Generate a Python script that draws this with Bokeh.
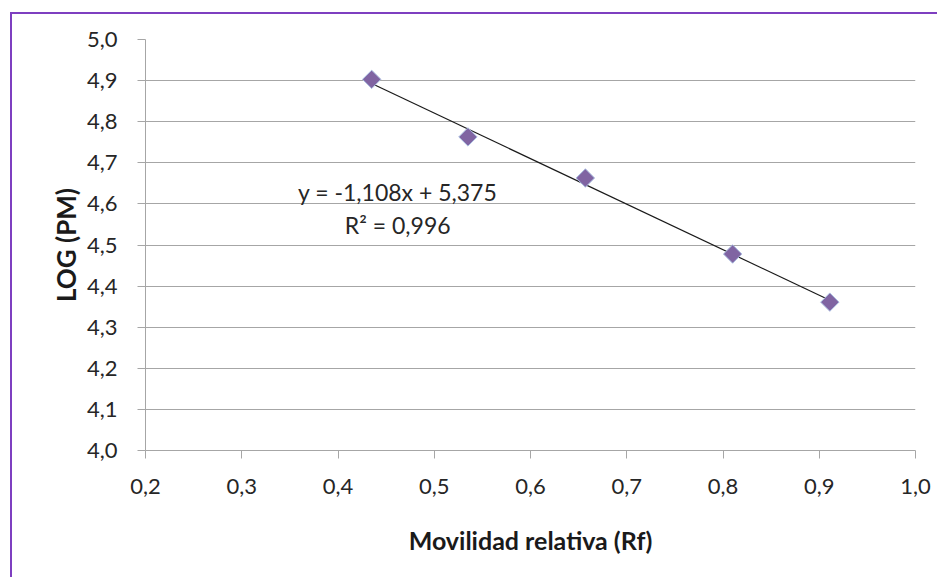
from bokeh.plotting import figure
from bokeh.models import (ColumnDataSource, FixedTicker, CustomJSTickFormatter,
                          Label, Range1d)
from bokeh.embed import file_html
from bokeh.resources import INLINE
import math

# Data
rf = [0.435, 0.535, 0.657, 0.810, 0.911]
log_pm = [4.903, 4.763, 4.663, 4.478, 4.361]
slope = -1.108
intercept = 5.375
r2 = "0,996"
x_ticks = [0.2, 0.3, 0.4, 0.5, 0.6, 0.7, 0.8, 0.9, 1.0]
y_ticks = [4.0, 4.1, 4.2, 4.3, 4.4, 4.5, 4.6, 4.7, 4.8, 4.9, 5.0]
x_title = "Movilidad relativa (Rf)"
y_title = "LOG (PM)"

FONT = "Lato"

p = figure(width=925, height=563, output_backend="svg", toolbar_location=None,
           x_range=Range1d(0.2, 1.0), y_range=Range1d(4.0, 5.0),
           min_border_left=133, min_border_right=22, min_border_top=25,
           min_border_bottom=127, frame_width=770, frame_height=411)
p.background_fill_color = "white"
p.border_fill_color = "white"
p.outline_line_color = None
p.styles = {"border-left": "2px solid #7E3FC0", "border-top": "2px solid #7E3FC0",
            "margin-left": "10px", "margin-top": "12px"}

grid_color = "#A6A6A6"
p.xgrid.grid_line_color = None
p.ygrid.grid_line_color = grid_color
p.ygrid.grid_line_width = 1

for ax in (p.xaxis[0], p.yaxis[0]):
    ax.axis_line_color = grid_color
    ax.major_tick_line_color = grid_color
    ax.major_tick_out = 8
    ax.major_tick_in = 0
    ax.minor_tick_line_color = None
    ax.major_label_text_font = FONT
    ax.major_label_text_font_size = "22px"
    ax.major_label_text_color = "#262626"
    ax.axis_label_text_font = FONT
    ax.axis_label_text_font_style = "bold"
    ax.axis_label_text_color = "#1A1A1A"
    ax.formatter = CustomJSTickFormatter(code="return tick.toFixed(1).replace('.', ',');")

p.xaxis.axis_label_text_font_size = "25px"
p.yaxis.axis_label_text_font_size = "26px"
p.xaxis.ticker = FixedTicker(ticks=x_ticks)
p.yaxis.ticker = FixedTicker(ticks=y_ticks)
p.xaxis.axis_label = x_title
p.yaxis.axis_label = y_title
p.xaxis.major_label_standoff = 20
p.yaxis.major_label_standoff = 20
p.xaxis.axis_label_standoff = 28
p.yaxis.axis_label_standoff = 2

# trendline over the data range
tx = [min(rf), max(rf)]
ty = [slope * v + intercept for v in tx]
p.line(tx, ty, line_color="#1A1A1A", line_width=1.2)

src = ColumnDataSource(dict(x=rf, y=log_pm))
p.scatter("x", "y", source=src, marker="square", size=13, angle=math.pi / 4,
          fill_color="#8064A2", line_color="#A9BCE0", line_width=1)

eq = "y = {:.3f}x + {:.3f}".format(slope, intercept).replace(".", ",")
p.add_layout(Label(x=0.462, y=4.628, text=eq, text_align="center",
                   text_baseline="middle", text_font=FONT,
                   text_font_size="23px", text_color="#262626"))
p.add_layout(Label(x=0.462, y=4.548, text="R\u00b2 = " + r2, text_align="center",
                   text_baseline="middle", text_font=FONT,
                   text_font_size="23px", text_color="#262626"))

open("out.html", "w").write(file_html(p, INLINE))
